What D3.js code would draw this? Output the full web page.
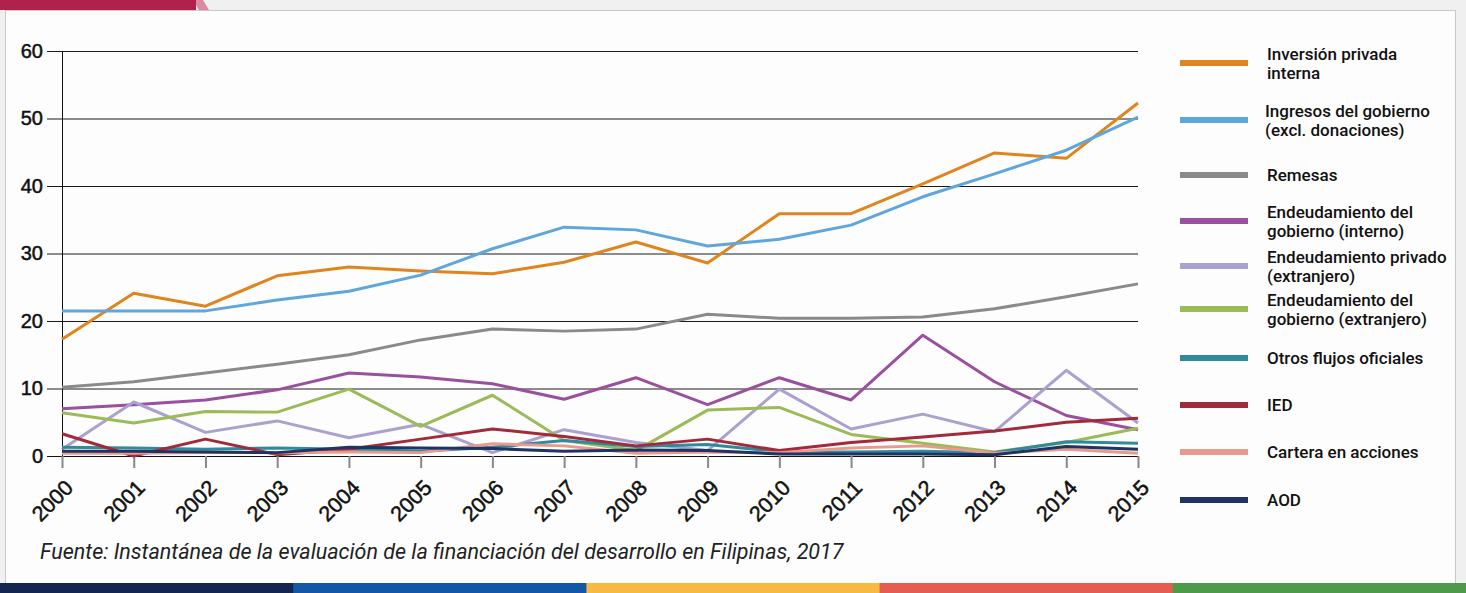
<!DOCTYPE html>
<html>
<head>
<meta charset="utf-8">
<script src="https://cdn.jsdelivr.net/npm/d3@7"></script>
<style>
  html, body { margin: 0; padding: 0; background: #f0f0f0; }
  svg { display: block; font-family: Roboto, "Noto Sans", sans-serif; }
</style>
</head>
<body>
<svg id="chart" width="1466" height="593"></svg>
<script>
const years = d3.range(2000, 2016);
const yTicks = [0, 10, 20, 30, 40, 50, 60];

const inversionPrivada = [17.3, 24.1, 22.2, 26.7, 28.0, 27.4, 27.0, 28.7, 31.7, 28.6, 35.9, 35.9, 40.3, 44.9, 44.1, 52.3];
const ingresosGobierno = [21.5, 21.5, 21.5, 23.1, 24.4, 26.8, 30.7, 33.9, 33.5, 31.1, 32.1, 34.2, 38.4, 41.8, 45.3, 50.2];
const remesas = [10.2, 11.0, 12.3, 13.6, 15.0, 17.2, 18.8, 18.5, 18.8, 21.0, 20.4, 20.4, 20.6, 21.8, 23.6, 25.5];
const endeudGobInterno = [7.0, 7.6, 8.3, 9.8, 12.3, 11.7, 10.7, 8.4, 11.6, 7.6, 11.6, 8.3, 17.9, 11.0, 6.0, 3.9];
const endeudPrivExt = [1.0, 8.0, 3.5, 5.2, 2.7, 4.7, 0.5, 3.9, 2.0, 0.8, 9.9, 4.0, 6.2, 3.6, 12.7, 4.9];
const endeudGobExt = [6.4, 4.9, 6.6, 6.5, 9.9, 4.4, 9.0, 2.3, 0.8, 6.8, 7.2, 3.2, 1.9, 0.6, 2.0, 4.1];
const otrosFlujos = [1.3, 1.2, 1.0, 1.2, 1.0, 0.7, 1.3, 2.3, 1.4, 1.7, 0.6, 0.6, 0.7, 0.5, 2.1, 1.9];
const ied = [3.3, 0.0, 2.5, 0.2, 1.0, 2.5, 4.0, 2.9, 1.5, 2.5, 0.8, 2.0, 2.8, 3.7, 5.0, 5.6];
const carteraAcciones = [0.4, 0.4, 0.5, 0.5, 0.6, 0.5, 1.8, 1.5, 0.4, 0.6, 0.5, 1.2, 1.5, 0.4, 1.0, 0.4];
const aod = [0.7, 0.7, 0.6, 0.5, 1.3, 1.2, 1.1, 0.7, 0.9, 0.8, 0.3, 0.3, 0.3, 0.2, 1.4, 1.0];

const seriesNames = [
  ["Inversión privada", "interna"],
  ["Ingresos del gobierno", "(excl. donaciones)"],
  ["Remesas"],
  ["Endeudamiento del", "gobierno (interno)"],
  ["Endeudamiento privado", "(extranjero)"],
  ["Endeudamiento del", "gobierno (extranjero)"],
  ["Otros flujos oficiales"],
  ["IED"],
  ["Cartera en acciones"],
  ["AOD"]
];
const seriesValues = [inversionPrivada, ingresosGobierno, remesas, endeudGobInterno, endeudPrivExt,
  endeudGobExt, otrosFlujos, ied, carteraAcciones, aod];
const seriesColors = ["#e0841e", "#5ea6dc", "#8a8a8a", "#9a4f9f", "#aaa1d0",
  "#9bbb58", "#2f8b9c", "#a12a3b", "#e89a8e", "#1f3462"];

const footnote = "Fuente: Instantánea de la evaluación de la financiación del desarrollo en Filipinas, 2017";
const bandColors = ["#14254f", "#1357a6", "#f6b942", "#e55d51", "#4c9a4a"];

const svg = d3.select("#chart");

// card frame and top tab
svg.append("rect").attr("x", 5.5).attr("y", 10.5).attr("width", 1450).attr("height", 583)
  .attr("fill", "#fdfdfd").attr("stroke", "#c8c8c8").attr("stroke-width", 1);
svg.append("path").attr("d", "M193,0 L203,0 L209,10 L199,10 Z").attr("fill", "#d88ca1");
svg.append("rect").attr("x", 0).attr("y", 0).attr("width", 196).attr("height", 10).attr("fill", "#b0214b");

// bottom colour band
const band = d3.scaleBand().domain(d3.range(bandColors.length)).range([0, 1466]);
svg.selectAll(".band").data(bandColors).enter().append("rect")
  .attr("x", (d, i) => band(i)).attr("y", 583)
  .attr("width", band.bandwidth() + 1).attr("height", 10)
  .attr("fill", d => d);

const margin = { top: 51, left: 62 };
const width = 1138 - margin.left;
const height = 456 - margin.top;

const x = d3.scaleLinear().domain([2000, 2015]).range([0, width]);
const y = d3.scaleLinear().domain([0, 60]).range([height, 0]);

const g = svg.append("g").attr("transform", `translate(${margin.left},${margin.top})`);

// gridlines + y axis labels
const yAxis = g.append("g")
  .call(d3.axisLeft(y).tickValues(yTicks).tickSize(-width).tickPadding(6).tickSizeOuter(0));
yAxis.select(".domain").remove();
yAxis.selectAll(".tick line").attr("stroke", "#1a1a1a").attr("stroke-width", 1).attr("x1", -15);
yAxis.selectAll(".tick text").attr("x", -19).attr("font-size", 20).attr("font-weight", 500)
  .attr("fill", "#111").attr("stroke", "#111").attr("stroke-width", 0.5);

g.append("line").attr("x1", 0.5).attr("x2", 0.5).attr("y1", 0).attr("y2", height)
  .attr("stroke", "#111").attr("stroke-width", 1);

// x axis
const xAxis = g.append("g").attr("transform", `translate(0,${height})`)
  .call(d3.axisBottom(x).tickValues(years).tickFormat(d3.format("d")).tickSize(12).tickSizeOuter(0));
xAxis.select(".domain").attr("stroke", "#111").attr("d", `M-15,0.5H${width}`);
xAxis.selectAll(".tick line").attr("stroke", "#888").attr("stroke-width", 2);
xAxis.selectAll(".tick text")
  .attr("font-size", 21.5).attr("font-weight", 500).attr("fill", "#111")
  .attr("stroke", "#111").attr("stroke-width", 0.5)
  .attr("text-anchor", "end")
  .attr("dy", 0).attr("y", 0)
  .attr("transform", "translate(12,33) rotate(-45)");

// lines
const line = d3.line().x((d, i) => x(years[i])).y(d => y(d));
g.selectAll(".series").data(seriesValues).enter().append("path")
  .attr("class", "series")
  .attr("d", d => line(d))
  .attr("fill", "none")
  .attr("stroke", (d, i) => seriesColors[i])
  .attr("stroke-width", 3)
  .attr("stroke-linejoin", "round");

// legend
const legendY = [63, 120, 175, 221, 266, 309, 358, 405, 452, 500];
const legend = svg.append("g");
seriesNames.forEach((name, i) => {
  const row = legend.append("g").attr("transform", `translate(1180,${legendY[i]})`);
  row.append("rect").attr("x", 0).attr("y", -3).attr("width", 68).attr("height", 6)
    .attr("fill", seriesColors[i]);
  const t = row.append("text").attr("font-size", 17).attr("font-weight", 500).attr("fill", "#111");
  const off = (name.length - 1) * 9.5;
  name.forEach((s, j) => {
    t.append("tspan").attr("x", i === 1 ? 85 : 87).attr("y", -off + j * 19 + 6).text(s);
  });
});

// footnote
svg.append("text").attr("x", 40).attr("y", 559)
  .attr("font-size", 21.5).attr("font-style", "italic").attr("fill", "#222")
  .text(footnote);
</script>
</body>
</html>
